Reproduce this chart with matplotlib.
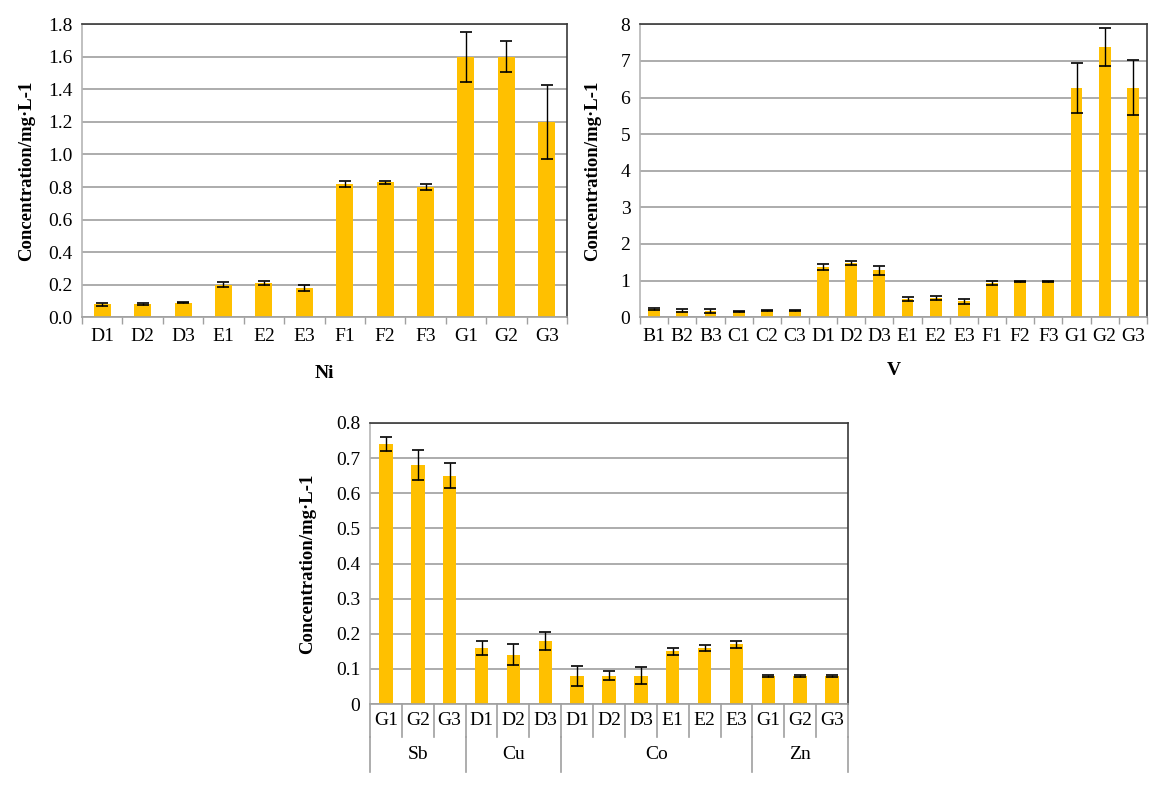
import matplotlib
matplotlib.use("Agg")
import matplotlib.pyplot as plt
from matplotlib.lines import Line2D
import numpy as np

plt.rcParams['font.family'] = ['Liberation Serif', 'DejaVu Serif']

# ---- data ----
ni_labels = ["D1", "D2", "D3", "E1", "E2", "E3", "F1", "F2", "F3", "G1", "G2", "G3"]
ni_values = [0.08, 0.08, 0.09, 0.20, 0.21, 0.18, 0.82, 0.83, 0.80, 1.60, 1.60, 1.20]
ni_errors = [0.010, 0.005, 0.005, 0.015, 0.015, 0.020, 0.020, 0.010, 0.020, 0.155, 0.095, 0.230]

v_labels = ["B1", "B2", "B3", "C1", "C2", "C3", "D1", "D2", "D3",
            "E1", "E2", "E3", "F1", "F2", "F3", "G1", "G2", "G3"]
v_values = [0.22, 0.17, 0.17, 0.15, 0.18, 0.18, 1.38, 1.48, 1.28,
            0.49, 0.53, 0.43, 0.93, 0.98, 0.98, 6.27, 7.38, 6.27]
v_errors = [0.02, 0.04, 0.05, 0.02, 0.02, 0.02, 0.08, 0.06, 0.12,
            0.05, 0.05, 0.07, 0.05, 0.02, 0.02, 0.68, 0.52, 0.75]

mix_labels = ["G1", "G2", "G3", "D1", "D2", "D3", "D1", "D2", "D3",
              "E1", "E2", "E3", "G1", "G2", "G3"]
mix_values = [0.74, 0.68, 0.65, 0.16, 0.14, 0.18, 0.08, 0.08, 0.08,
              0.15, 0.16, 0.17, 0.08, 0.08, 0.08]
mix_errors = [0.020, 0.042, 0.035, 0.020, 0.030, 0.025, 0.028, 0.013, 0.024,
              0.010, 0.008, 0.010, 0.003, 0.002, 0.002]
mix_groups = ["Sb", "Cu", "Co", "Zn"]
mix_group_sizes = [3, 3, 6, 3]

BAR = "#FFC000"
GRID = "#a6a6a6"
DARK = "#3a3a3a"
YLABEL = "Concentration/mg·L-1"
TICK_FS = 14
YLAB_FS = 13.5

fig = plt.figure(figsize=(11.52, 7.89), dpi=100)


def style_axes(ax, n, ylim, yticks, yfmt):
    ax.set_xlim(-0.5, n - 0.5)
    ax.set_ylim(*ylim)
    ax.set_yticks(yticks)
    ax.set_yticklabels([yfmt(t) for t in yticks])
    ax.yaxis.grid(True, color=GRID, linewidth=1.3)
    ax.set_axisbelow(True)
    ax.tick_params(axis='y', length=0, labelsize=TICK_FS, pad=7)
    ax.spines['left'].set_color("#b5b5b5")
    ax.spines['bottom'].set_color("#a0a0a0")
    ax.spines['top'].set_color(DARK)
    ax.spines['right'].set_color(DARK)
    for s in ax.spines.values():
        s.set_linewidth(1.2)
    ax.set_ylabel(YLABEL, fontsize=YLAB_FS, fontweight='bold')


def draw_bars(ax, labels, values, errors):
    x = np.arange(len(labels))
    ax.bar(x, values, width=0.42, color=BAR, zorder=2)
    ax.errorbar(x, values, yerr=errors, fmt='none', ecolor='black',
                elinewidth=1.0, capsize=4.5, capthick=1.2, zorder=3)
    return x


# ---- Ni ----
ax1 = fig.add_axes([0.0712, 0.598, 0.4210, 0.3712])
x1 = draw_bars(ax1, ni_labels, ni_values, ni_errors)
style_axes(ax1, len(ni_labels), (0, 1.8), np.arange(0, 1.81, 0.2), lambda t: f"{t:.1f}")
ax1.set_xticks(x1)
ax1.set_xticklabels(ni_labels)
ax1.set_xticks(np.arange(-0.5, len(ni_labels)), minor=True)
ax1.tick_params(axis='x', which='major', length=0, labelsize=TICK_FS, pad=8)
ax1.tick_params(axis='x', which='minor', length=5, color="#a0a0a0", width=1)
ax1.set_xlabel("Ni", fontsize=14, fontweight='bold', labelpad=14)
ax1.yaxis.labelpad = 9

# ---- V ----
ax2 = fig.add_axes([0.5556, 0.598, 0.4400, 0.3712])
x2 = draw_bars(ax2, v_labels, v_values, v_errors)
style_axes(ax2, len(v_labels), (0, 8), np.arange(0, 9, 1), lambda t: f"{t:.0f}")
ax2.set_xticks(x2)
ax2.set_xticklabels(v_labels)
ax2.set_xticks(np.arange(-0.5, len(v_labels)), minor=True)
ax2.tick_params(axis='x', which='major', length=0, labelsize=TICK_FS, pad=8)
ax2.tick_params(axis='x', which='minor', length=5, color="#a0a0a0", width=1)
ax2.set_xlabel("V", fontsize=14, fontweight='bold', labelpad=12)
ax2.yaxis.labelpad = 14

# ---- mixed ----
ax3 = fig.add_axes([0.3212, 0.1077, 0.4149, 0.3562])
x3 = draw_bars(ax3, mix_labels, mix_values, mix_errors)
style_axes(ax3, len(mix_labels), (0, 0.8), np.arange(0, 0.81, 0.1),
           lambda t: "0" if abs(t) < 1e-9 else f"{t:.1f}")
ax3.set_xticks([])
ax3.yaxis.labelpad = 14
n3 = len(mix_labels)
trans = ax3.get_xaxis_transform()
row1 = -0.117   # bottom of category row (axes fraction)
row2 = -0.242   # bottom of group row
for i, lab in enumerate(mix_labels):
    ax3.text(i, row1 / 2, lab, transform=trans, ha='center', va='center', fontsize=TICK_FS)
for b in range(n3 + 1):
    ax3.add_line(Line2D([b - 0.5, b - 0.5], [0, row1], transform=trans,
                        color="#a0a0a0", linewidth=1.2, clip_on=False))
start = 0
bounds = [0]
for name, size in zip(mix_groups, mix_group_sizes):
    center = start + (size - 1) / 2
    ax3.text(center, (row1 + row2) / 2, name, transform=trans, ha='center',
             va='center', fontsize=TICK_FS)
    start += size
    bounds.append(start)
for b in bounds:
    ax3.add_line(Line2D([b - 0.5, b - 0.5], [row1, row2], transform=trans,
                        color="#a0a0a0", linewidth=1.2, clip_on=False))

fig.savefig("out.png", dpi=100)
